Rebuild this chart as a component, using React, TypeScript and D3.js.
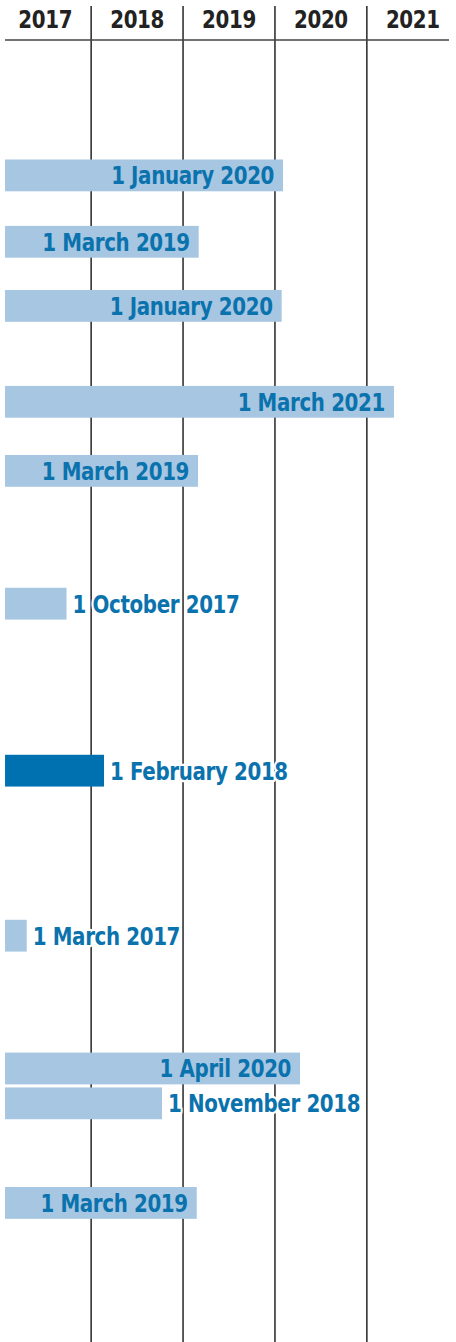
import React from "react";
import * as d3 from "d3";

const years = [2017, 2018, 2019, 2020, 2021];
const gridYears = [2018, 2019, 2020, 2021];
const labels = [
  "1 January 2020",
  "1 March 2019",
  "1 January 2020",
  "1 March 2021",
  "1 March 2019",
  "1 October 2017",
  "1 February 2018",
  "1 March 2017",
  "1 April 2020",
  "1 November 2018",
  "1 March 2019",
];
const barStart = 2017.063;
const barEnds = [2020.088, 2019.17, 2020.073, 2021.295, 2019.163, 2017.732, 2018.14, 2017.299, 2020.273, 2018.771, 2019.149];
const rows = [0, 2, 3.93, 6.82, 8.9, 12.9, 17.93, 22.9, 26.9, 27.95, 30.95];
const highlighted = [false, false, false, false, false, false, true, false, false, false, false];
const labelInside = [true, true, true, true, true, false, false, false, true, false, true];

const W = 456;
const H = 1342;
const FONT = "'DejaVu Sans Condensed', 'DejaVu Sans', sans-serif";
const FS = 24;
const SX = 0.92;

export default function App() {
  const x = d3.scaleLinear().domain([2017, 2022]).range([-0.75, 458.75]);
  const y = d3.scaleLinear().domain([0, 1]).range([159.5, 192.7]);
  const barH = 31.8;

  return (
    <svg
      width={W}
      height={H}
      style={{ position: "absolute", left: 0, top: 0, display: "block", background: "#fff" }}
    >
      {gridYears.map((g) => (
        <line key={g} x1={x(g)} x2={x(g)} y1={6} y2={H} stroke="#333" strokeWidth={1.6} />
      ))}
      <line x1={x(barStart)} x2={449} y1={40} y2={40} stroke="#444" strokeWidth={1.6} />
      {years.map((yr) => (
        <text
          key={yr}
          transform={`translate(${x(yr + 0.5)},28) scale(${SX},1)`}
          textAnchor="middle"
          fontFamily={FONT}
          fontWeight="bold"
          fontSize={FS}
          letterSpacing={-0.4}
          fill="#222"
          style={{ fontStretch: "condensed" }}
        >
          {yr}
        </text>
      ))}
      {labels.map((lab, i) => {
        const x0 = x(barStart);
        const x1 = x(barEnds[i]);
        const top = y(rows[i]);
        const cy = top + barH / 2;
        const inside = labelInside[i];
        const tx = inside ? x1 - 9 : x1 + 6;
        return (
          <g key={i}>
            <rect
              x={x0}
              y={top}
              width={x1 - x0}
              height={barH}
              fill={highlighted[i] ? "#0071b0" : "#a6c6e2"}
            />
            <text
              transform={`translate(${tx},${cy + 9}) scale(${SX},1)`}
              textAnchor={inside ? "end" : "start"}
              fontFamily={FONT}
              fontWeight="bold"
              fontSize={FS}
              letterSpacing={-0.4}
              fill="#0a72ad"
              stroke={inside ? "none" : "#fff"}
              strokeWidth={inside ? 0 : 4.5}
              strokeLinejoin="round"
              style={{ paintOrder: "stroke", fontStretch: "condensed" }}
            >
              {lab}
            </text>
          </g>
        );
      })}
    </svg>
  );
}
